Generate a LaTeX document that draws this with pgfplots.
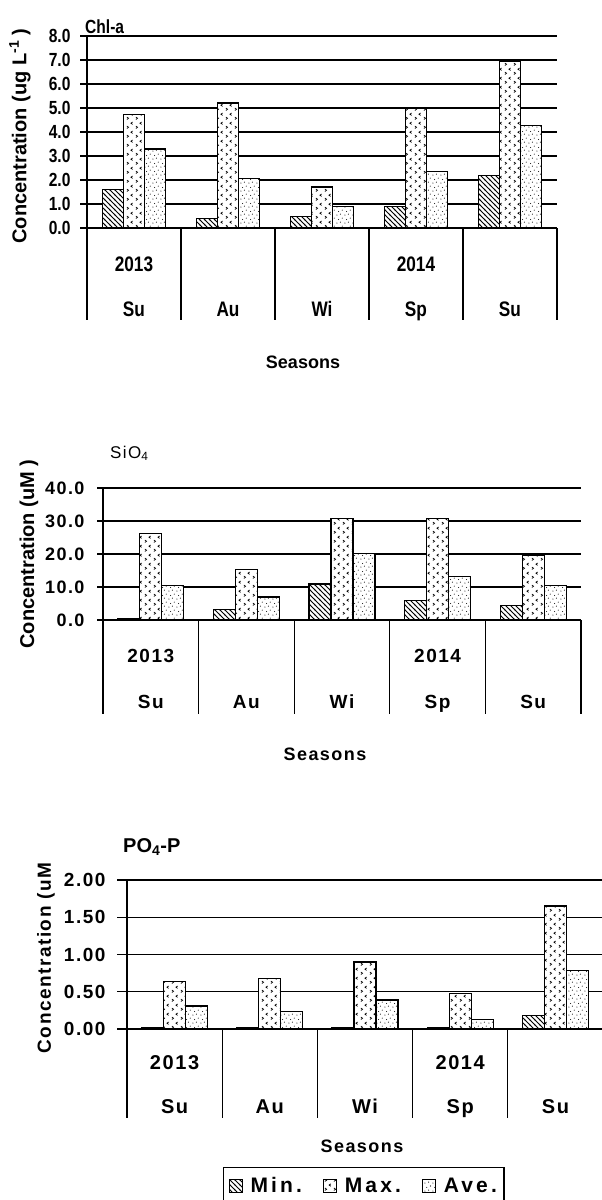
\documentclass[border=0pt]{standalone}
\usepackage{fontspec}
\setmainfont{Liberation Sans}
\newfontfamily\nar{Liberation Sans}[FakeStretch=0.82]
\newfontfamily\wide{Liberation Sans}[LetterSpace=8]
\newfontfamily\wider{Liberation Sans}[LetterSpace=15]
\usepackage{pgfplots}
\pgfplotsset{compat=1.18}
\usetikzlibrary{patterns}

\newcommand\fs[1]{\fontsize{#1}{#1}\selectfont}

% Min.: fine backslash hatching
\pgfdeclarepatternformonly{hatch}{\pgfqpoint{-1pt}{-1pt}}{\pgfqpoint{6pt}{6pt}}{\pgfqpoint{5pt}{5pt}}{%
  \pgfsetlinewidth{0.9pt}%
  \pgfpathmoveto{\pgfqpoint{-1pt}{6pt}}\pgfpathlineto{\pgfqpoint{6pt}{-1pt}}%
  \pgfusepath{stroke}}
% Max.: little chevrons
\pgfdeclarepatternformonly{chev}{\pgfqpoint{0pt}{0pt}}{\pgfqpoint{9pt}{9pt}}{\pgfqpoint{9pt}{9pt}}{%
  \pgfsetlinewidth{0.8pt}%
  \pgfpathmoveto{\pgfqpoint{1pt}{0.6pt}}\pgfpathlineto{\pgfqpoint{2.8pt}{1.9pt}}\pgfpathlineto{\pgfqpoint{1pt}{3.2pt}}%
  \pgfpathmoveto{\pgfqpoint{7.3pt}{5.1pt}}\pgfpathlineto{\pgfqpoint{5.5pt}{6.4pt}}\pgfpathlineto{\pgfqpoint{7.3pt}{7.7pt}}%
  \pgfusepath{stroke}}
% Ave.: sparse dots
\pgfdeclarepatternformonly{spk}{\pgfqpoint{0pt}{0pt}}{\pgfqpoint{8pt}{8pt}}{\pgfqpoint{8pt}{8pt}}{%
  \pgfpathcircle{\pgfqpoint{1pt}{1pt}}{0.6pt}%
  \pgfpathcircle{\pgfqpoint{5pt}{2pt}}{0.6pt}%
  \pgfpathcircle{\pgfqpoint{3pt}{5pt}}{0.6pt}%
  \pgfpathcircle{\pgfqpoint{7pt}{6.5pt}}{0.6pt}%
  \pgfusepath{fill}}

\pgfplotsset{
  seas/.style={
    scale only axis, xmin=0, xmax=5, ymin=0,
    axis x line=bottom, axis y line=left,
    axis line style={line width=1.2pt,-},
    xtick=\empty,
    ymajorgrids, major grid style={black,line width=1.2pt},
    ytick style={black,line width=1.2pt},
    tick align=outside,
    ybar=0pt,
    clip=false,
    /pgf/number format/assume math mode=true,
  },
  pmin/.style={draw=black,line width=1.2pt,fill=white,postaction={pattern=hatch}},
  pmax/.style={draw=black,line width=1.2pt,fill=white,postaction={pattern=chev}},
  pave/.style={draw=black,line width=1.2pt,fill=white,postaction={pattern=spk}},
  leg/.style={legend image code/.code={\draw[##1,line width=0.9pt] (0pt,-6.5pt) rectangle (13pt,6.5pt);}},
}

\begin{document}
\begin{tikzpicture}

% ---------- Chl-a ----------
\begin{axis}[seas, at={(87pt,-228pt)}, anchor=south west,
    width=470pt, height=192pt, ymax=8, ytick distance=1,
    bar width=21pt, major tick length=7pt,
    yticklabel style={font=\nar\bfseries\fs{19},xshift=-6pt},
    yticklabel={\pgfmathprintnumber[fixed,fixed zerofill,precision=1]{\tick}}]
\addplot[pmin] coordinates {(0.5,1.6) (1.5,0.4) (2.5,0.47) (3.5,0.91) (4.5,2.2)};
\addplot[pmax] coordinates {(0.5,4.72) (1.5,5.21) (2.5,1.71) (3.5,4.98) (4.5,6.95)};
\addplot[pave] coordinates {(0.5,3.29) (1.5,2.05) (2.5,0.89) (3.5,2.34) (4.5,4.26)};
\pgfplotsinvokeforeach{0,...,5}{\draw[line width=1.2pt] (axis cs:#1,0) -- ++(0pt,-92pt);}
\node[anchor=base,font=\nar\bfseries\fs{21},yshift=-43pt] at (axis cs:0.5,0) {2013};
\node[anchor=base,font=\nar\bfseries\fs{21},yshift=-43pt] at (axis cs:3.5,0) {2014};
\node[anchor=base,font=\nar\bfseries\fs{21},yshift=-88pt] at (axis cs:0.5,0) {Su};
\node[anchor=base,font=\nar\bfseries\fs{21},yshift=-88pt] at (axis cs:1.5,0) {Au};
\node[anchor=base,font=\nar\bfseries\fs{21},yshift=-88pt] at (axis cs:2.5,0) {Wi};
\node[anchor=base,font=\nar\bfseries\fs{21},yshift=-88pt] at (axis cs:3.5,0) {Sp};
\node[anchor=base,font=\nar\bfseries\fs{21},yshift=-88pt] at (axis cs:4.5,0) {Su};
\end{axis}
\node[anchor=base west,font=\nar\bfseries\fs{19},inner sep=0pt] at (85pt,-33pt) {Chl-a};
\node[rotate=90,font=\bfseries\fs{20}] at (20pt,-136pt) {Concentration (ug L\textsuperscript{-1} )};
\node[anchor=base,font=\bfseries\fs{18}] at (303pt,-368pt) {Seasons};

% ---------- SiO4 ----------
\begin{axis}[seas, at={(103pt,-620pt)}, anchor=south west,
    width=478pt, height=132pt, ymax=40, ytick distance=10,
    bar width=22pt, major tick length=6pt,
    yticklabel style={font=\wide\bfseries\fs{18},xshift=-9pt},
    yticklabel={\pgfmathprintnumber[fixed,fixed zerofill,precision=1]{\tick}}]
\addplot[pmin] coordinates {(0.5,0.5) (1.5,3.3) (2.5,10.9) (3.5,5.8) (4.5,4.3)};
\addplot[pmax] coordinates {(0.5,26.2) (1.5,15.3) (2.5,30.7) (3.5,30.7) (4.5,19.5)};
\addplot[pave] coordinates {(0.5,10.4) (1.5,7.0) (2.5,20.2) (3.5,13.3) (4.5,10.4)};
\pgfplotsinvokeforeach{0,...,5}{\draw[line width=1.2pt] (axis cs:#1,0) -- ++(0pt,-94pt);}
\node[anchor=base,font=\wide\bfseries\fs{19},yshift=-42pt] at (axis cs:0.5,0) {2013};
\node[anchor=base,font=\wide\bfseries\fs{19},yshift=-42pt] at (axis cs:3.5,0) {2014};
\node[anchor=base,font=\wide\bfseries\fs{19},yshift=-88pt] at (axis cs:0.5,0) {Su};
\node[anchor=base,font=\wide\bfseries\fs{19},yshift=-88pt] at (axis cs:1.5,0) {Au};
\node[anchor=base,font=\wide\bfseries\fs{19},yshift=-88pt] at (axis cs:2.5,0) {Wi};
\node[anchor=base,font=\wide\bfseries\fs{19},yshift=-88pt] at (axis cs:3.5,0) {Sp};
\node[anchor=base,font=\wide\bfseries\fs{19},yshift=-88pt] at (axis cs:4.5,0) {Su};
\end{axis}
\node[anchor=base west,font=\wide\fs{17},inner sep=0pt] at (110pt,-458pt) {SiO\textsubscript{4}};
\node[rotate=90,font=\bfseries\fs{20}] at (29pt,-554pt) {Concentration (uM )};
\node[anchor=base,font=\wide\bfseries\fs{18}] at (325pt,-760pt) {Seasons};

% ---------- PO4-P ----------
\begin{axis}[seas, at={(127pt,-1029pt)}, anchor=south west,
    width=476pt, height=149pt, ymax=2, ytick distance=0.5,
    bar width=22pt, major tick length=10pt,
    yticklabel style={font=\wide\bfseries\fs{19},xshift=-8pt},
    yticklabel={\pgfmathprintnumber[fixed,fixed zerofill,precision=2]{\tick}},
    legend columns=3,
    legend style={at={(axis description cs:0.2017,-0.926)}, anchor=north west,
      draw=black, line width=1.2pt, font=\wider\bfseries\fs{21},
      inner xsep=5pt, inner ysep=8pt,
      /tikz/every odd column/.append style={column sep=6pt},
      /tikz/every even column/.append style={column sep=19pt}}]
\addplot[pmin,leg] coordinates {(0.5,0.02) (1.5,0.02) (2.5,0.02) (3.5,0.02) (4.5,0.18)};
\addplot[pmax,leg] coordinates {(0.5,0.64) (1.5,0.68) (2.5,0.90) (3.5,0.48) (4.5,1.65)};
\addplot[pave,leg] coordinates {(0.5,0.31) (1.5,0.24) (2.5,0.39) (3.5,0.13) (4.5,0.79)};
\legend{Min.,Max.,Ave.}
\pgfplotsinvokeforeach{0,...,5}{\draw[line width=1.2pt] (axis cs:#1,0) -- ++(0pt,-89pt);}
\node[anchor=base,font=\wide\bfseries\fs{20},yshift=-40pt] at (axis cs:0.5,0) {2013};
\node[anchor=base,font=\wide\bfseries\fs{20},yshift=-40pt] at (axis cs:3.5,0) {2014};
\node[anchor=base,font=\wide\bfseries\fs{20},yshift=-84pt] at (axis cs:0.5,0) {Su};
\node[anchor=base,font=\wide\bfseries\fs{20},yshift=-84pt] at (axis cs:1.5,0) {Au};
\node[anchor=base,font=\wide\bfseries\fs{20},yshift=-84pt] at (axis cs:2.5,0) {Wi};
\node[anchor=base,font=\wide\bfseries\fs{20},yshift=-84pt] at (axis cs:3.5,0) {Sp};
\node[anchor=base,font=\wide\bfseries\fs{20},yshift=-84pt] at (axis cs:4.5,0) {Su};
\end{axis}
\node[anchor=base west,font=\bfseries\fs{20},inner sep=0pt] at (123pt,-852pt) {PO\textsubscript{4}-P};
\node[rotate=90,font=\wide\bfseries\fs{19}] at (46pt,-958pt) {Concentration (uM};
\node[anchor=base,font=\wide\bfseries\fs{18}] at (362pt,-1152pt) {Seasons};

\pgfresetboundingbox
\path[use as bounding box] (0pt,0pt) rectangle (602pt,-1200pt);
\end{tikzpicture}
\end{document}
